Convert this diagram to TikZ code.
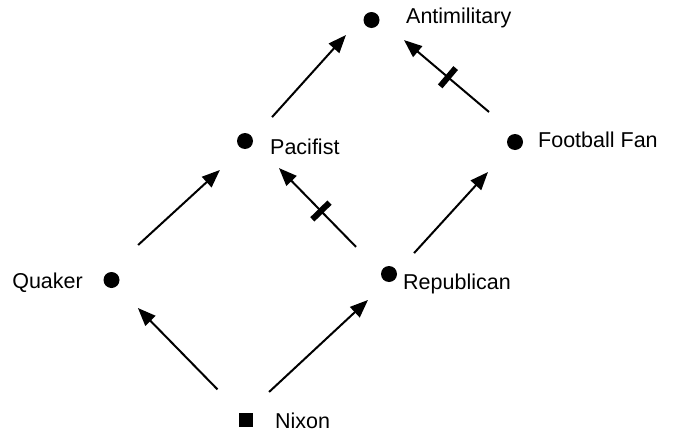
\documentclass[tikz,border=0pt]{standalone}
\usepackage{fontspec}
\setmainfont{Liberation Sans}
\usetikzlibrary{arrows.meta}
\begin{document}
\begin{tikzpicture}[x=1pt,y=-1pt,
  dot/.style={circle,fill=black,minimum size=16pt,inner sep=0pt,outer sep=4pt},
  sq/.style={rectangle,fill=black,minimum size=14pt,inner sep=0pt,outer sep=5pt},
  lbl/.style={inner sep=0pt,font=\fontsize{21.5}{25}\selectfont},
  arr/.style={line width=2pt,-{Triangle[length=18pt,width=14pt]}},
  crossbar/.style={sloped,fill=black,rectangle,minimum width=6pt,minimum height=24pt,inner sep=0pt}]
\useasboundingbox[fill=white] (0,0) rectangle (673,434);
% vertices
\node[dot] (A) at (371.5,20) {};
\node[dot] (P) at (245,141) {};
\node[dot] (F) at (515,142) {};
\node[dot] (Q) at (111.5,280) {};
\node[dot] (R) at (389,274) {};
\node[sq]  (N) at (246,419.5) {};
% labels
\node[lbl,anchor=base west] (At) at (406,23) {Antimilitary};
\node[lbl,anchor=base west] (Pt) at (270,154) {Pacifist};
\node[lbl,anchor=base west] (Ft) at (538,147) {Football Fan};
\node[lbl,anchor=base west] (Rt) at (403,289) {Republican};
\node[lbl,anchor=base east] (Qt) at (83,288) {Quaker};
\node[lbl,anchor=base west] (Nt) at (275,428) {Nixon};
% arrows
\draw[arr,shorten <=24.6pt,shorten >=20.2pt] (P.28.6) -- (A.180);
\draw[arr,shorten <=28.9pt,shorten >=27.2pt] (F.109.2) -- node[crossbar,pos=0.494]{} (A.348.4);
\draw[arr,shorten <=34.2pt,shorten >=26.9pt] (Q.83.9) -- (P.244.6);
\draw[arr,shorten <=31.35pt,shorten >=32.4pt] (R.157.7) -- node[crossbar,pos=0.469]{} (P.341.5);
\draw[arr,shorten <=21.2pt,shorten >=28.4pt] (R.26.6) -- (F.229);
\draw[arr,shorten <=25.3pt,shorten >=26.5pt] (N.132.5) -- (Q.311.5);
\draw[arr,shorten <=22.8pt,shorten >=22.05pt] (N.62.2) -- (R.246.2);
\end{tikzpicture}
\end{document}
